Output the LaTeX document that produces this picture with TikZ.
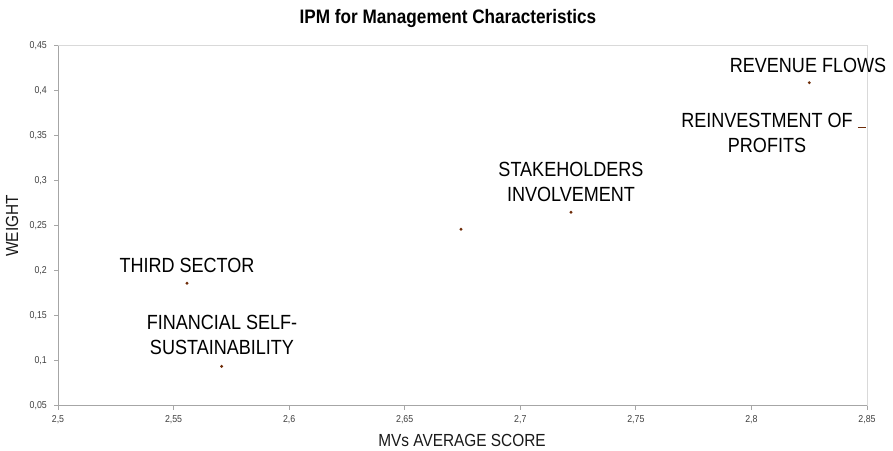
\documentclass[tikz,border=0pt]{standalone}
\usepackage{fontspec}
\setmainfont{Liberation Sans}
\newfontfamily\chartfont[FakeStretch=0.88]{Liberation Sans}
\definecolor{axisgray}{HTML}{A6A6A6}
\definecolor{framegray}{HTML}{D9D9D9}
\definecolor{ticktext}{HTML}{404040}
\definecolor{dotcol}{HTML}{6E2C08}
\begin{document}
\begin{tikzpicture}[x=1pt,y=-1pt,
  ptlabel/.style={font=\chartfont\fontsize{20.5}{25}\selectfont, align=center, inner sep=0pt, text=black},
  ticklab/.style={font=\chartfont\fontsize{10}{12}\selectfont, text=ticktext, inner sep=0pt},
  axtitle/.style={font=\chartfont\fontsize{17.5}{20}\selectfont, text=black!90, inner sep=0pt},
  dot/.style={circle, fill=dotcol, inner sep=0pt, minimum size=3.2pt},
]
\useasboundingbox[fill=white] (0,0) rectangle (893,450);
% title
\node[font=\chartfont\bfseries\fontsize{19.5}{22}\selectfont, inner sep=0pt] (title) at (448,18) {IPM for Management Characteristics};
% axis titles
\node[axtitle] (xtitle) at (462,440) {MVs AVERAGE SCORE};
\node[axtitle, rotate=90] (ytitle) at (12,226) {WEIGHT};
\begin{scope}[shift={(58,405.5)}, x=115.57pt, y=45pt]
  % frame
  \draw[framegray, line width=0.8pt] (0,8) -- (7,8) -- (7,0);
  \draw[axisgray, line width=0.8pt] (0,8) -- (0,0) -- (7,0);
  % ticks
  \foreach \i in {0,...,8} \draw[axisgray, line width=0.8pt] (0,\i) -- ++(-4pt,0);
  \foreach \i in {0,...,7} \draw[axisgray, line width=0.8pt] (\i,0) -- ++(0,-4pt);
  \node[ticklab, anchor=east] (y0) at ([xshift=-11pt]0,0) {0,05};
  \node[ticklab, anchor=east] (y1) at ([xshift=-11pt]0,1) {0,1};
  \node[ticklab, anchor=east] (y2) at ([xshift=-11pt]0,2) {0,15};
  \node[ticklab, anchor=east] (y3) at ([xshift=-11pt]0,3) {0,2};
  \node[ticklab, anchor=east] (y4) at ([xshift=-11pt]0,4) {0,25};
  \node[ticklab, anchor=east] (y5) at ([xshift=-11pt]0,5) {0,3};
  \node[ticklab, anchor=east] (y6) at ([xshift=-11pt]0,6) {0,35};
  \node[ticklab, anchor=east] (y7) at ([xshift=-11pt]0,7) {0,4};
  \node[ticklab, anchor=east] (y8) at ([xshift=-11pt]0,8) {0,45};
  \node[ticklab] (x0) at ([yshift=-14.5pt]0,0) {2,5};
  \node[ticklab] (x1) at ([yshift=-14.5pt]1,0) {2,55};
  \node[ticklab] (x2) at ([yshift=-14.5pt]2,0) {2,6};
  \node[ticklab] (x3) at ([yshift=-14.5pt]3,0) {2,65};
  \node[ticklab] (x4) at ([yshift=-14.5pt]4,0) {2,7};
  \node[ticklab] (x5) at ([yshift=-14.5pt]5,0) {2,75};
  \node[ticklab] (x6) at ([yshift=-14.5pt]6,0) {2,8};
  \node[ticklab] (x7) at ([yshift=-14.5pt]7,0) {2,85};
  % data points
  \node[dot] (ts) at (1.116,2.716) {};
  \node[dot] (fs) at (1.416,0.871) {};
  \node[dot] (un) at (3.487,3.916) {};
  \node[dot] (si) at (4.439,4.293) {};
  \node[dot] (rf) at (6.501,7.173) {};
  \coordinate (rp) at (6.99,6.18);
  \coordinate (rpl) at ([xshift=-8pt]6.99,6.18);
  \draw[dotcol, line width=1.1pt] (rpl) -- (rp);
\end{scope}
% point labels
\node[ptlabel] (tsl) at (187,265) {THIRD SECTOR};
\node[ptlabel] (fsl) at (222,335) {FINANCIAL SELF-\\SUSTAINABILITY};
\node[ptlabel] (sil) at (571,182) {STAKEHOLDERS\\INVOLVEMENT};
\node[ptlabel] (rfl) at (808,65) {REVENUE FLOWS};
\node[ptlabel] (rpll) at (767,133) {REINVESTMENT OF\\PROFITS};
\end{tikzpicture}
\end{document}
